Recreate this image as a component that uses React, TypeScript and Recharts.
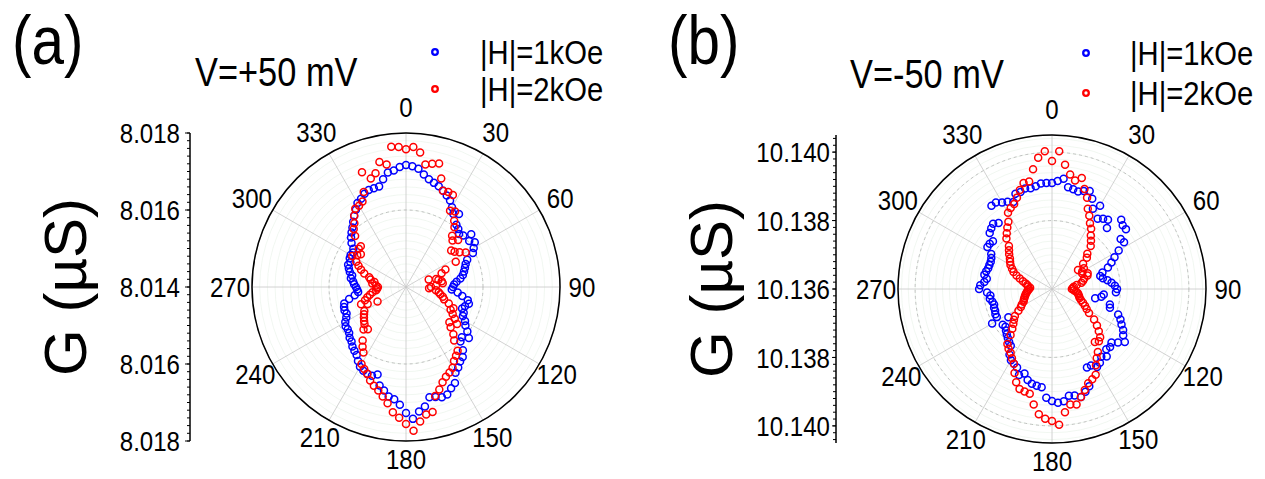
import React from 'react';
import {
  RadarChart,
  Radar,
  PolarGrid,
  PolarAngleAxis,
  PolarRadiusAxis,
  LineChart,
  XAxis,
  YAxis,
} from 'recharts';

const FONT = '"Liberation Sans", Arial, Helvetica, sans-serif';
// the figure's lettering is slightly condensed horizontally
const SQUEEZE = 0.86;
const TICK_FONT = 28;
const HEIGHT = 479;

const BLUE = '#0000ff';
const RED = '#ff0000';

const SERIES_NAMES = ['|H|=1kOe', '|H|=2kOe'];
const SERIES_COLORS = [BLUE, RED];

// field angle (degrees), one sample every 3 degrees
const ANGLES = [
  0, 3, 6, 9, 12, 15, 18, 21, 24, 27,
  30, 33, 36, 39, 42, 45, 48, 51, 54, 57,
  60, 63, 66, 69, 72, 75, 78, 81, 84, 87,
  90, 93, 96, 99, 102, 105, 108, 111, 114, 117,
  120, 123, 126, 129, 132, 135, 138, 141, 144, 147,
  150, 153, 156, 159, 162, 165, 168, 171, 174, 177,
  180, 183, 186, 189, 192, 195, 198, 201, 204, 207,
  210, 213, 216, 219, 222, 225, 228, 231, 234, 237,
  240, 243, 246, 249, 252, 255, 258, 261, 264, 267,
  270, 273, 276, 279, 282, 285, 288, 291, 294, 297,
  300, 303, 306, 309, 312, 315, 318, 321, 324, 327,
  330, 333, 336, 339, 342, 345, 348, 351, 354, 357,
];
const ANGLE_TICKS = [0, 30, 60, 90, 120, 150, 180, 210, 240, 270, 300, 330];

// conductance G (µS) at V = +50 mV
const G_POS_1KOE = [
  8.01717, 8.01714, 8.01709, 8.01696, 8.01686, 8.0168, 8.01675, 8.01668, 8.0166, 8.01652,
  8.01639, 8.01626, 8.01634, 8.01608, 8.01603, 8.01595, 8.016, 8.01618, 8.01603, 8.01613,
  8.01603, 8.01595, 8.01574, 8.01566, 8.01561, 8.01556, 8.01551, 8.01543, 8.01532, 8.01525,
  8.01522, 8.01519, 8.01535, 8.01548, 8.01564, 8.01569, 8.01561, 8.01556, 8.01564, 8.01566,
  8.01577, 8.01584, 8.01597, 8.0161, 8.01595, 8.016, 8.01621, 8.01634, 8.01639, 8.01649,
  8.01657, 8.0168, 8.01688, 8.01699, 8.01701, 8.01696, 8.01693, 8.01714, 8.01725, 8.01743,
  8.01727, 8.01706, 8.01693, 8.01688, 8.01675, 8.01665, 8.01639, 8.01647, 8.01647, 8.01644,
  8.01639, 8.01629, 8.01618, 8.01613, 8.01608, 8.016, 8.01597, 8.0159, 8.01587, 8.01587,
  8.01582, 8.01574, 8.01569, 8.01571, 8.01569, 8.01566, 8.01551, 8.01535, 8.01525, 8.01527,
  8.0153, 8.01535, 8.01538, 8.01545, 8.01543, 8.01551, 8.01556, 8.01561, 8.01558, 8.01564,
  8.01566, 8.01564, 8.01569, 8.01582, 8.01592, 8.016, 8.01608, 8.01618, 8.01629, 8.01639,
  8.01652, 8.01657, 8.01665, 8.0167, 8.0167, 8.0167, 8.01686, 8.01701, 8.01704, 8.01712,
];
const G_POS_2KOE = [
  8.01758, 8.01764, 8.01751, 8.01722, 8.01727, 8.01732, 8.01696, 8.01668, 8.0167, 8.01668,
  8.01629, 8.01634, 8.01613, 8.016, 8.01579, 8.01571, 8.01582, 8.01551, 8.01556, 8.01566,
  8.01579, 8.01545, 8.01512, 8.01499, 8.01462, 8.01481, 8.01486, 8.01494, 8.01496, 8.01478,
  8.01465, 8.0146, 8.01478, 8.01486, 8.01491, 8.01499, 8.01504, 8.01519, 8.01535, 8.0153,
  8.0154, 8.01551, 8.01564, 8.01545, 8.01556, 8.01574, 8.01587, 8.01613, 8.01621, 8.01629,
  8.01642, 8.01649, 8.01655, 8.01665, 8.0168, 8.01693, 8.01732, 8.01735, 8.01751, 8.01774,
  8.01756, 8.0174, 8.01727, 8.01706, 8.01691, 8.01678, 8.0167, 8.0166, 8.01647, 8.01639,
  8.01631, 8.01603, 8.01592, 8.01579, 8.01548, 8.01556, 8.01545, 8.0154, 8.01535, 8.0153,
  8.01525, 8.01483, 8.01509, 8.01525, 8.01512, 8.01504, 8.01496, 8.01488, 8.01478, 8.01475,
  8.01473, 8.01478, 8.01488, 8.01483, 8.01494, 8.01499, 8.01514, 8.01525, 8.01535, 8.01545,
  8.01561, 8.01551, 8.01545, 8.01558, 8.01558, 8.01587, 8.01603, 8.01613, 8.01629, 8.01642,
  8.01644, 8.01649, 8.0167, 8.01719, 8.01696, 8.01706, 8.01732, 8.01722, 8.01766, 8.01764,
];

// conductance G (µS) at V = -50 mV
const G_NEG_1KOE = [
  10.1391, 10.13916, 10.13924, 10.13901, 10.13898, 10.13895, 10.13901, 10.13907, 10.13889, 10.13863,
  10.13881, 10.13845, 10.13854, 10.1386, 10.1384, 10.13886, 10.13878, 10.13878, 10.13848, 10.13851,
  10.13825, 10.13805, 10.1379, 10.13775, 10.13755, 10.13746, 10.13752, 10.13764, 10.13775, 10.13784,
  10.1379, 10.13787, 10.13752, 10.13746, 10.13729, 10.13775, 10.13778, 10.13807, 10.13819, 10.13828,
  10.1384, 10.13848, 10.13863, 10.13848, 10.13834, 10.1384, 10.13837, 10.13854, 10.13845, 10.13857,
  10.13863, 10.13851, 10.13851, 10.13904, 10.13916, 10.13927, 10.13918, 10.13916, 10.1393, 10.13933,
  10.13927, 10.13918, 10.13889, 10.13886, 10.13883, 10.13875, 10.1386, 10.13869, 10.13851, 10.13845,
  10.1384, 10.13828, 10.13805, 10.13799, 10.13793, 10.13787, 10.13781, 10.13775, 10.13778, 10.13752,
  10.13802, 10.13781, 10.13781, 10.13778, 10.13778, 10.13775, 10.13778, 10.13784, 10.13781, 10.1379,
  10.13813, 10.1381, 10.13799, 10.13793, 10.13802, 10.13799, 10.13796, 10.13796, 10.13796, 10.13799,
  10.13805, 10.13825, 10.13825, 10.13822, 10.13845, 10.13851, 10.13857, 10.13848, 10.13901, 10.13901,
  10.13892, 10.13886, 10.13878, 10.13898, 10.13898, 10.13904, 10.13901, 10.13904, 10.1391, 10.1391,
];
const G_NEG_2KOE = [
  10.13974, 10.14003, 10.13965, 10.13939, 10.13924, 10.13936, 10.13907, 10.13886, 10.13857, 10.1384,
  10.13822, 10.1381, 10.13793, 10.13781, 10.13769, 10.13746, 10.13737, 10.13717, 10.13694, 10.13711,
  10.13702, 10.13699, 10.13714, 10.13711, 10.13699, 10.13694, 10.13688, 10.13673, 10.13664, 10.13661,
  10.13658, 10.13664, 10.1367, 10.13676, 10.13679, 10.13682, 10.13685, 10.13691, 10.13699, 10.13708,
  10.13717, 10.13729, 10.13752, 10.13769, 10.13784, 10.13799, 10.13805, 10.13799, 10.13828, 10.1384,
  10.13857, 10.13881, 10.13889, 10.13895, 10.1391, 10.13927, 10.13945, 10.13942, 10.13962, 10.13997,
  10.13986, 10.1398, 10.13968, 10.13942, 10.13913, 10.1391, 10.13907, 10.13892, 10.13869, 10.13845,
  10.13834, 10.13822, 10.13816, 10.13807, 10.13781, 10.13764, 10.13752, 10.13743, 10.13734, 10.13717,
  10.13705, 10.13699, 10.13691, 10.13688, 10.13685, 10.13682, 10.13679, 10.13676, 10.13673, 10.1367,
  10.13667, 10.13664, 10.1367, 10.13673, 10.13679, 10.13688, 10.13699, 10.13711, 10.13723, 10.13731,
  10.1374, 10.13746, 10.13752, 10.13761, 10.13769, 10.13778, 10.13799, 10.1381, 10.13822, 10.13834,
  10.13857, 10.13866, 10.13872, 10.13886, 10.13904, 10.13921, 10.13921, 10.13954, 10.13986, 10.14003,
];

// radial scale: centre value and rim value (µS), plus dashed reference circles
const POS_RANGE: [number, number] = [8.014, 8.018];
const NEG_RANGE: [number, number] = [10.136, 10.1405];
const POS_GRID = [8.016];
const NEG_GRID = [10.138, 10.14];
// side scale: offsets from the centre value, shown mirrored above and below
const SIDE_TICKS = [-0.004, -0.002, 0, 0.002, 0.004];
const MINOR_STEP = 0.0002;

type LabelProps = {
  x: number;
  y: number;
  size: number;
  anchor?: 'start' | 'middle' | 'end';
  rotate?: boolean;
  squeeze?: number;
  dy?: string;
  children: React.ReactNode;
};

function Label({ x, y, size, anchor = 'start', rotate = false, squeeze = SQUEEZE, dy, children }: LabelProps) {
  const transform = rotate
    ? `translate(${x},${y}) rotate(-90) scale(1,${squeeze})`
    : `translate(${x},${y}) scale(${squeeze},1)`;
  return (
    <text
      transform={transform}
      textAnchor={anchor}
      fontSize={size}
      fontFamily={FONT}
      fill="#000"
      dy={dy}
    >
      {children}
    </text>
  );
}

// angle labels sit a little farther out at the top than at the bottom
const AngleTick = (props: any) => {
  const deg = Number(props.payload.value);
  const rad = (deg * Math.PI) / 180;
  const extra = 4 * Math.cos(rad);
  return (
    <Label
      x={props.x + extra * Math.sin(rad)}
      y={props.y - extra * Math.cos(rad)}
      size={TICK_FONT}
      anchor="middle"
      dy="0.36em"
    >
      {props.payload.value}
    </Label>
  );
};

const EmptyTick = () => <g />;

const makeSideTick = (centre: number) => (props: any) => (
  <Label x={props.x} y={props.y} size={TICK_FONT} anchor="end" dy="0.36em">
    {(centre + Math.abs(props.payload.value)).toFixed(3)}
  </Label>
);

type PanelProps = {
  left: number;
  width: number;
  cx: number;
  cy: number;
  radius: number;
  range: [number, number];
  grid: number[];
  low: number[];
  high: number[];
  tag: string;
  tagX: number;
  title: string;
  titleX: number;
  titleY: number;
  legendX: number;
  legendTextX: number;
  legendY: [number, number];
  gLabelX: number;
  axisX: number;
  tickSize: number;
  tickMargin: number;
};

function Panel(p: PanelProps) {
  const [g0, g1] = p.range;
  const half = +(g1 - g0).toFixed(6);
  // radial values are measured from the centre value of the plot
  const rows = ANGLES.map((angle, i) => ({
    angle,
    low: p.low[i] - g0,
    high: p.high[i] - g0,
  }));
  const gridOffsets = p.grid.map((g) => +(g - g0).toFixed(6));
  const nMinor = Math.floor(half / MINOR_STEP + 1e-6);
  const minorRadii = Array.from({ length: nMinor }, (_, k) => (k + 1) * MINOR_STEP);
  const minorSide = Array.from({ length: 2 * nMinor + 1 }, (_, k) => (k - nMinor) * MINOR_STEP);
  const sideMargin = {
    top: p.cy - p.radius,
    bottom: HEIGHT - (p.cy + p.radius),
    left: 0,
    right: 0,
  };
  const sideData = SIDE_TICKS.map((v) => ({ v }));
  const sideWidth = p.axisX + 10;
  const dot = (color: string) => ({ r: 3.5, fill: 'none', stroke: color, strokeWidth: 1.5 });

  return (
    <div style={{ position: 'absolute', left: p.left, top: 0, width: p.width, height: HEIGHT }}>
      <div style={{ position: 'absolute', left: 0, top: 0 }}>
        <RadarChart
          width={p.width}
          height={HEIGHT}
          data={rows}
          cx={p.cx}
          cy={p.cy}
          innerRadius={0}
          outerRadius={p.radius}
          startAngle={90}
          endAngle={-270}
          margin={{ top: 0, right: 0, bottom: 0, left: 0 }}
        >
          <PolarRadiusAxis
            type="number"
            domain={[0, half]}
            ticks={gridOffsets}
            allowDataOverflow
            tick={false}
            axisLine={false}
          />
          <PolarRadiusAxis
            radiusAxisId="minor"
            type="number"
            domain={[0, half]}
            ticks={minorRadii}
            allowDataOverflow
            tick={false}
            axisLine={false}
          />
          <PolarRadiusAxis
            radiusAxisId="rim"
            type="number"
            domain={[0, half]}
            ticks={[half]}
            allowDataOverflow
            tick={false}
            axisLine={false}
          />
          <PolarGrid
            radiusAxisId="minor"
            gridType="circle"
            radialLines={false}
            stroke="#e8f1e8"
            strokeWidth={0.6}
          />
          <PolarGrid radiusAxisId="rim" gridType="circle" stroke="#c6c6c6" strokeWidth={0.8} />
          <PolarGrid
            gridType="circle"
            radialLines={false}
            stroke="#b4b4b4"
            strokeWidth={0.8}
            strokeDasharray="3 3"
          />
          <PolarAngleAxis
            dataKey="angle"
            type="number"
            domain={[0, 360]}
            ticks={ANGLE_TICKS}
            allowDataOverflow
            tick={<AngleTick />}
            tickLine={false}
            tickSize={22}
            axisLineType="circle"
            axisLine={{ stroke: '#000', strokeWidth: 1.5 }}
          />
          <Radar
            name={SERIES_NAMES[0]}
            dataKey="low"
            stroke="none"
            fill="none"
            dot={dot(SERIES_COLORS[0])}
            isAnimationActive={false}
          />
          <Radar
            name={SERIES_NAMES[1]}
            dataKey="high"
            stroke="none"
            fill="none"
            dot={dot(SERIES_COLORS[1])}
            isAnimationActive={false}
          />

          <Label x={p.tagX} y={64} size={68}>
            {p.tag}
          </Label>
          <Label x={p.titleX} y={p.titleY} size={40}>
            {p.title}
          </Label>
          {SERIES_NAMES.map((name, i) => (
            <g key={name}>
              <circle
                cx={p.legendX}
                cy={p.legendY[i]}
                r={2.8}
                fill="none"
                stroke={SERIES_COLORS[i]}
                strokeWidth={2.3}
              />
              <Label x={p.legendTextX} y={p.legendY[i]} size={34} dy="0.36em">
                {name}
              </Label>
            </g>
          ))}
          <Label x={p.gLabelX} y={p.cy} size={60} anchor="middle" rotate squeeze={1} dy="0.36em">
            G (µS)
          </Label>
        </RadarChart>
      </div>

      {/* mirrored conductance scale beside the polar plot: minor ticks */}
      <div style={{ position: 'absolute', left: 0, top: 0 }}>
        <LineChart width={sideWidth} height={HEIGHT} data={sideData} margin={sideMargin}>
          <XAxis hide dataKey="v" />
          <YAxis
            type="number"
            domain={[-half, half]}
            allowDataOverflow
            ticks={minorSide}
            interval={0}
            width={p.axisX}
            tick={<EmptyTick />}
            tickSize={3}
            tickLine={{ stroke: '#000', strokeWidth: 1 }}
            axisLine={{ stroke: '#000', strokeWidth: 1 }}
          />
        </LineChart>
      </div>

      {/* mirrored conductance scale: labelled ticks */}
      <div style={{ position: 'absolute', left: 0, top: 0 }}>
        <LineChart width={sideWidth} height={HEIGHT} data={sideData} margin={sideMargin}>
          <XAxis hide dataKey="v" />
          <YAxis
            type="number"
            domain={[-half, half]}
            allowDataOverflow
            ticks={SIDE_TICKS}
            interval={0}
            width={p.axisX}
            tick={makeSideTick(g0)}
            tickSize={p.tickSize}
            tickMargin={p.tickMargin}
            tickLine={{ stroke: '#000', strokeWidth: 1 }}
            axisLine={{ stroke: '#000', strokeWidth: 1 }}
          />
        </LineChart>
      </div>
    </div>
  );
}

export default function App() {
  return (
    <div
      style={{
        position: 'absolute',
        left: 0,
        top: 0,
        width: 1265,
        height: HEIGHT,
        background: '#fff',
        overflow: 'hidden',
      }}
    >
      <Panel
        left={0}
        width={640}
        cx={406}
        cy={287}
        radius={154}
        range={POS_RANGE}
        grid={POS_GRID}
        low={G_POS_1KOE}
        high={G_POS_2KOE}
        tag="(a)"
        tagX={12}
        title="V=+50 mV"
        titleX={195}
        titleY={86}
        legendX={435}
        legendTextX={480}
        legendY={[52, 89]}
        gLabelX={64}
        axisX={190}
        tickSize={5}
        tickMargin={5}
      />
      <Panel
        left={640}
        width={625}
        cx={412}
        cy={289}
        radius={154}
        range={NEG_RANGE}
        grid={NEG_GRID}
        low={G_NEG_1KOE}
        high={G_NEG_2KOE}
        tag="(b)"
        tagX={28}
        title="V=-50 mV"
        titleX={210}
        titleY={88}
        legendX={446}
        legendTextX={490}
        legendY={[53, 93]}
        gLabelX={70}
        axisX={196}
        tickSize={4}
        tickMargin={2}
      />
    </div>
  );
}
